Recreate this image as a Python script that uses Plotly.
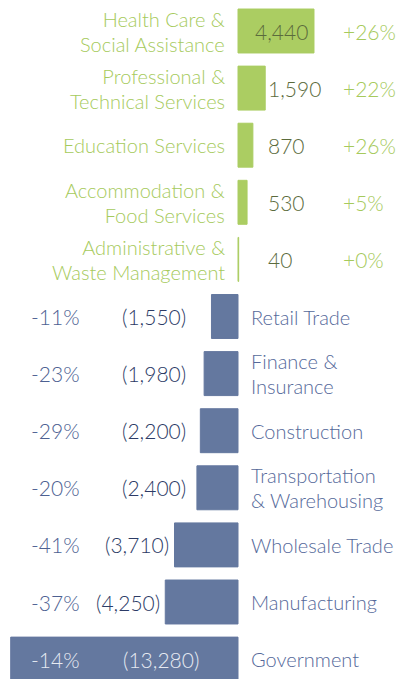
import plotly.graph_objects as go

# ---------------- data ----------------
categories = [
    "Health Care &<br>Social Assistance",
    "Professional &<br>Technical Services",
    "Education Services",
    "Accommodation &<br>Food Services",
    "Administrative &<br>Waste Management",
    "Retail Trade",
    "Finance &<br>Insurance",
    "Construction",
    "Transportation<br>& Warehousing",
    "Wholesale Trade",
    "Manufacturing",
    "Government",
]
job_change = [4440, 1590, 870, 530, 40, -1550, -1980, -2200, -2400, -3710, -4250, -13280]
pct_change = ["+26%", "+22%", "+26%", "+5%", "+0%", "-11%", "-23%", "-29%", "-20%", "-41%", "-37%", "-14%"]

# ---------------- styling ----------------
OFF = 8                     # default page body margin
W, H = 409 - OFF, 679 - OFF
ZERO_PX = 238 - OFF         # pixel of the zero line inside the figure
PXU = 227.3 / 13280         # pixels per job
X_RANGE = [-ZERO_PX / PXU, (W - ZERO_PX) / PXU]
ROW_PX = 57.1
ROW0_PX = 31 - OFF
Y_RANGE = [(H - ROW0_PX) / ROW_PX, -ROW0_PX / ROW_PX]

GREEN_BAR = "#abcd62"
GREEN_TXT = "#a6ca5c"
GREEN_VAL = "#5b6b3c"
BLUE_BAR = "#64789f"
BLUE_CAT = "#55699a"
BLUE_PCT = "#4d6192"
BLUE_VAL = "#2c3b66"
FONT = "Lato"
FS = 21          # values / percentages
CAT_FS = 20      # category labels
BASE_FS = 18.9   # controls line spacing of two-line labels (1.3 x 18.9 ~ 24.5 px)

def fmt(v):
    s = f"{abs(v):,}"
    return s if v >= 0 else f"({s})"

colors = [GREEN_BAR if v >= 0 else BLUE_BAR for v in job_change]
ypos = list(range(len(categories)))

fig = go.Figure(go.Bar(
    x=job_change, y=ypos, orientation="h",
    marker=dict(color=colors, line=dict(color=colors, width=1)),
    width=0.77, hoverinfo="skip",
))

ann = []
def add(text, xpx, y, anchor, color, multiline=False):
    if multiline:
        body = "<br>".join(f'<span style="font-size:{CAT_FS}px">{ln}</span>'
                           for ln in text.split("<br>"))
        size = BASE_FS
    else:
        body, size = text, FS
    ann.append(dict(text=body, x=(xpx - OFF) / W, xref="paper", y=y, yref="y",
                    xanchor=anchor, yanchor="middle", showarrow=False,
                    align=anchor,
                    font=dict(family=FONT, size=size, color=color, weight=300)))

Z = ZERO_PX + OFF  # zero line in page pixels
for i, (cat, v, p) in enumerate(zip(categories, job_change, pct_change)):
    end_px = Z + v * PXU
    if v >= 0:
        add(cat, Z - 11, i, "right", GREEN_TXT, multiline=True)
        if end_px - Z > 70:
            add(fmt(v), end_px - 4, i, "right", GREEN_VAL)
        else:
            add(fmt(v), 266, i, "left", GREEN_VAL)
        add(p, 341, i, "left", GREEN_TXT)
    else:
        add(cat, Z + 11, i, "left", BLUE_CAT, multiline=True)
        if end_px < 60:
            add(fmt(v), 201, i, "right", "#e6eaf2")
            add(p, 82, i, "right", "#e6eaf2")
        else:
            add(fmt(v), min(188, end_px - 3), i, "right", BLUE_VAL)
            add(p, 82, i, "right", BLUE_PCT)

fig.update_layout(
    width=W, height=H,
    margin=dict(l=0, r=0, t=0, b=0),
    paper_bgcolor="white", plot_bgcolor="white",
    showlegend=False,
    xaxis=dict(range=X_RANGE, visible=False, fixedrange=True),
    yaxis=dict(range=Y_RANGE, visible=False, fixedrange=True),
    annotations=ann,
)

fig.write_html("out.html")
